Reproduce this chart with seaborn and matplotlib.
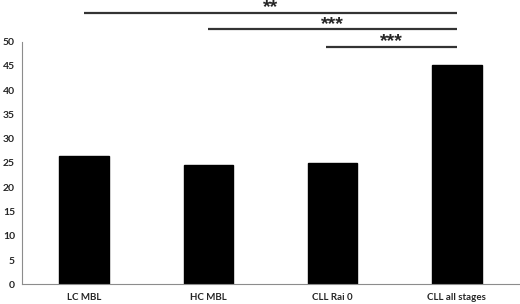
import matplotlib
matplotlib.use("Agg")
import matplotlib.pyplot as plt
import seaborn as sns
import pandas as pd
from matplotlib.ticker import FixedLocator

categories = ["LC MBL", "HC MBL", "CLL Rai 0", "CLL all stages"]
values = [26.5, 24.5, 25.1, 45.2]
yticks = [0, 5, 10, 15, 20, 25, 30, 35, 40, 45, 50]
# significance brackets: (start category index, end index, level y, label)
sig_start = [0, 1, 1.95]
sig_end = [3, 3, 3]
sig_y = [56.0, 52.6, 49.0]
sig_label = ["**", "***", "***"]

sns.set_style("white")
plt.rcParams['font.family'] = ['Lato', 'DejaVu Sans']

df = pd.DataFrame({"cat": categories, "val": values})
fig = plt.figure(figsize=(5.2, 3.04), dpi=100)
ax = fig.add_axes([22/520, 1 - 284.3/304, 497/520, (284.3 - 41.7)/304])
sns.barplot(data=df, x="cat", y="val", color="black", width=0.4, ax=ax,
            saturation=1, edgecolor="black")
ax.set_xlim(-0.5, 3.5)
ax.set_ylim(0, 50)
ax.set_yticks(yticks)
ax.set_xlabel("")
ax.set_ylabel("")
for s in ["top", "right"]:
    ax.spines[s].set_visible(False)
for s in ["left", "bottom"]:
    ax.spines[s].set_color("#8c8c8c")
    ax.spines[s].set_linewidth(0.8)
ax.tick_params(axis="y", which="major", length=3, color="#8c8c8c", width=0.8,
               labelsize=7.5, pad=2)
ax.tick_params(axis="x", which="major", length=0, labelsize=7, pad=6)
ax.xaxis.set_minor_locator(FixedLocator([-0.5, 0.5, 1.5, 2.5, 3.5]))
ax.tick_params(axis="x", which="minor", length=4, color="#8c8c8c", width=0.8,
               direction="out")
for lab in ax.get_xticklabels() + ax.get_yticklabels():
    lab.set_fontweight("bold")

for a, b, y, lab in zip(sig_start, sig_end, sig_y, sig_label):
    ax.plot([a, b], [y, y], color="#333333", lw=1.6, clip_on=False,
            solid_capstyle="butt")
    ax.annotate(lab, xy=((a + b) / 2, y), xytext=(0, 0.5),
                textcoords="offset pixels", ha="center", va="baseline",
                fontsize=14, fontweight="bold", family=["Liberation Sans"],
                annotation_clip=False)

fig.savefig("out.png", dpi=100)
